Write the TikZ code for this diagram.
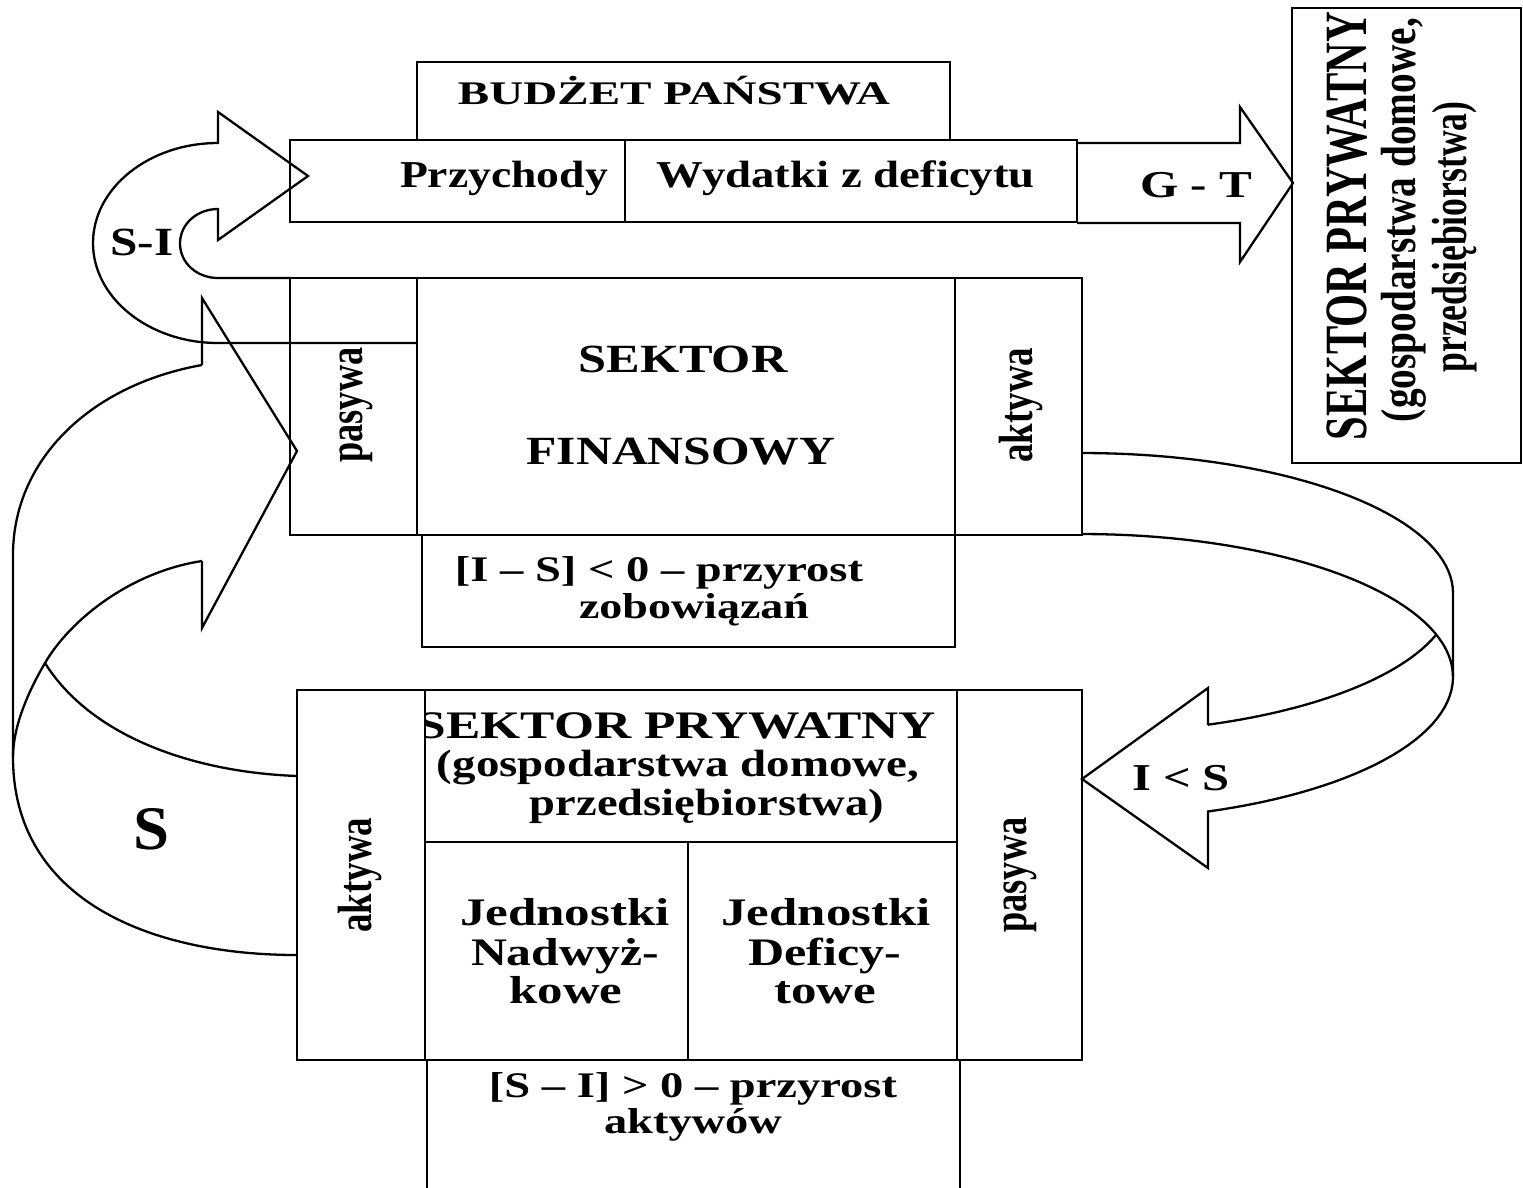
\documentclass[tikz,border=0pt]{standalone}
\usepackage{fontspec}
\setmainfont{Liberation Serif}
\usepackage{graphicx}
\newcommand\fitw[2]{\resizebox{#1}{\height}{#2}}
\newcommand\rotw[3]{\rotatebox{90}{\resizebox{#1}{#2\height}{#3}}}
\newcommand\boxnode[5]{\node[box, minimum width={(#4)-(#2)}, minimum height={(#5)-(#3)}] (#1) at ({((#2)+(#4))/2},{((#3)+(#5))/2}) {};}
\begin{document}
\begin{tikzpicture}[x=1pt,y=-1pt,
  box/.style={draw, line width=2.7pt, inner sep=0pt, outer sep=0pt},
  shp/.style={draw, line width=2.3pt, line join=miter},
  lbl/.style={inner sep=0pt, anchor=base, font=\fontsize{38}{38}\selectfont\bfseries},
  lblm/.style={inner sep=0pt, anchor=base, font=\fontsize{36}{36}\selectfont\bfseries},
  lbls/.style={inner sep=0pt, anchor=base, font=\fontsize{33}{33}\selectfont\bfseries},
  lblb/.style={inner sep=0pt, anchor=base, font=\fontsize{62}{62}\selectfont\bfseries},
  rot/.style={inner sep=0pt, anchor=center, font=\fontsize{37}{37}\selectfont\bfseries}]
\useasboundingbox (0,0) rectangle (1523,1187);
\clip (0,0) rectangle (1523,1187);
\fill[white] (0,0) rectangle (1523,1187);

% ---- budget ----
\boxnode{bud}{417}{62}{950}{140}
\boxnode{przy}{290}{140}{625}{222}
\boxnode{wyd}{625}{140}{1077}{222}
\node[lbls] (tbud) at (674,104) {\fitw{432pt}{BUDŻET PAŃSTWA}};
\node[lbl] (tprz) at (504,187) {\fitw{208pt}{Przychody}};
\node[lbl] (twyd) at (846,187) {\fitw{378pt}{Wydatki z deficytu}};

% ---- right private sector box ----
\boxnode{rbox}{1292}{8}{1521}{463}
\node[rot, font=\fontsize{40}{40}\selectfont\bfseries] (tr1) at (1347,226) {\rotw{428pt}{1.5}{SEKTOR PRYWATNY}};
\node[rot, font=\fontsize{38}{38}\selectfont\bfseries] (tr2) at (1404,220) {\rotw{404pt}{1.3}{(gospodarstwa domowe,}};
\node[rot, font=\fontsize{38}{38}\selectfont\bfseries] (tr3) at (1455,237) {\rotw{271pt}{1.3}{przedsiębiorstwa)}};

% ---- G - T arrow ----
\draw[shp] (1077,143) -- (1240,143) -- (1240,107) -- (1293,183) -- (1240,262) -- (1240,223) -- (1077,223);
\node[lbl] (tgt) at (1196,197) {\fitw{112pt}{G - T}};

% ---- financial sector ----
\boxnode{fpas}{290}{278}{417}{535}
\boxnode{fmain}{417}{278}{955}{535}
\boxnode{fakt}{955}{278}{1082}{535}
\boxnode{fbot}{422}{535}{955}{647}
\node[lbl, font=\fontsize{40}{40}\selectfont\bfseries] (tsek) at (683,372) {\fitw{209pt}{SEKTOR}};
\node[lbl, font=\fontsize{40}{40}\selectfont\bfseries] (tfin) at (681,464) {\fitw{309pt}{FINANSOWY}};
\node[rot] (tpasf) at (356,405) {\rotw{115pt}{1.3}{pasywa}};
\node[rot] (taktf) at (1021,405) {\rotw{115pt}{1.3}{aktywa}};
\node[lblm] (tis) at (659,581) {\fitw{408pt}{[I – S] < 0 – przyrost}};
\node[lblm] (tzob) at (694,618) {\fitw{230pt}{zobowiązań}};

% ---- S-I arrow ----
\draw[shp] (417,343) -- (218,343) .. controls (149,343) and (93,298) .. (93,243)
  .. controls (93,188) and (149,143) .. (218,143) -- (218,112) -- (308,176) -- (218,240) -- (218,209)
  .. controls (197,209) and (180,224) .. (180,243.5) .. controls (180,263) and (197,278) .. (218,278) -- (290,278);
\node[lbl, font=\fontsize{40}{40}\selectfont\bfseries] (tsi) at (142,255) {\fitw{63pt}{S-I}};

% ---- private sector (bottom) ----
\boxnode{pakt}{297}{690}{425}{1060}
\boxnode{ptop}{425}{690}{957}{842}
\boxnode{pnad}{425}{842}{688}{1060}
\boxnode{pdef}{688}{842}{957}{1060}
\boxnode{ppas}{957}{690}{1082}{1060}
\boxnode{pbot}{427}{1060}{960}{1240}
\begin{scope}
\clip (425,690) rectangle (957,842);
\node[lbl, font=\fontsize{39}{39}\selectfont\bfseries] (tsp1) at (677,738) {\fitw{518pt}{SEKTOR PRYWATNY}};
\end{scope}
\node[lbl] (tsp2) at (678,776) {\fitw{482pt}{(gospodarstwa domowe,}};
\node[lbl] (tsp3) at (707,815) {\fitw{354pt}{przedsiębiorstwa)}};
\node[lbl, font=\fontsize{39}{39}\selectfont\bfseries] (tj1) at (565,925) {\fitw{210pt}{Jednostki}};
\node[lbl, font=\fontsize{39}{39}\selectfont\bfseries] (tn1) at (565,965) {\fitw{188pt}{Nadwyż-}};
\node[lbl, font=\fontsize{39}{39}\selectfont\bfseries] (tk1) at (566,1003) {\fitw{113pt}{kowe}};
\node[lbl, font=\fontsize{39}{39}\selectfont\bfseries] (tj2) at (826,925) {\fitw{209pt}{Jednostki}};
\node[lbl, font=\fontsize{39}{39}\selectfont\bfseries] (td2) at (825,965) {\fitw{153pt}{Deficy-}};
\node[lbl, font=\fontsize{39}{39}\selectfont\bfseries] (tt2) at (825,1003) {\fitw{102pt}{towe}};
\node[rot] (taktp) at (360,875) {\rotw{115pt}{1.3}{aktywa}};
\node[rot] (tpasp) at (1020,875) {\rotw{115pt}{1.3}{pasywa}};
\node[lblm] (tsi2) at (693,1097) {\fitw{408pt}{[S – I] > 0 – przyrost}};
\node[lblm] (takw) at (693,1133) {\fitw{178pt}{aktywów}};

% ---- S arrow (from private assets up to financial liabilities) ----
\draw[shp] (202,365) .. controls (90,385) and (13,460) .. (13,555) -- (13,757);
\draw[shp] (202,561) .. controls (130,572) and (70,620) .. (45,663)
  .. controls (25,697) and (13,730) .. (13,757)
  .. controls (13,900) and (150,955) .. (297,955);
\draw[shp] (45,663) .. controls (90,735) and (190,772) .. (297,776);
\draw[shp] (202,365) -- (202,298) -- (297,451) -- (202,628) -- (202,561);
\node[lblb] (tS) at (151,849) {\fitw{36pt}{S}};

% ---- I < S arrow ----
\draw[shp] plot[domain=-90:0, samples=40, variable=\t] ({1082+371*cos(\t)},{593+140*sin(\t)}) -- (1453,677);
\draw[shp] plot[domain=-90:70.3, samples=70, variable=\t] ({1082+371*cos(\t)},{677+143*sin(\t)});
\draw[shp] plot[domain=17.3:70.15, samples=40, variable=\t] ({1082+371*cos(\t)},{593+140*sin(\t)});
\draw[shp] (1208,725) -- (1208,688) -- (1082,779) -- (1208,868) -- (1208,811.6);
\node[lbl] (tis2) at (1181,790) {\fitw{98pt}{I < S}};
\end{tikzpicture}
\end{document}
